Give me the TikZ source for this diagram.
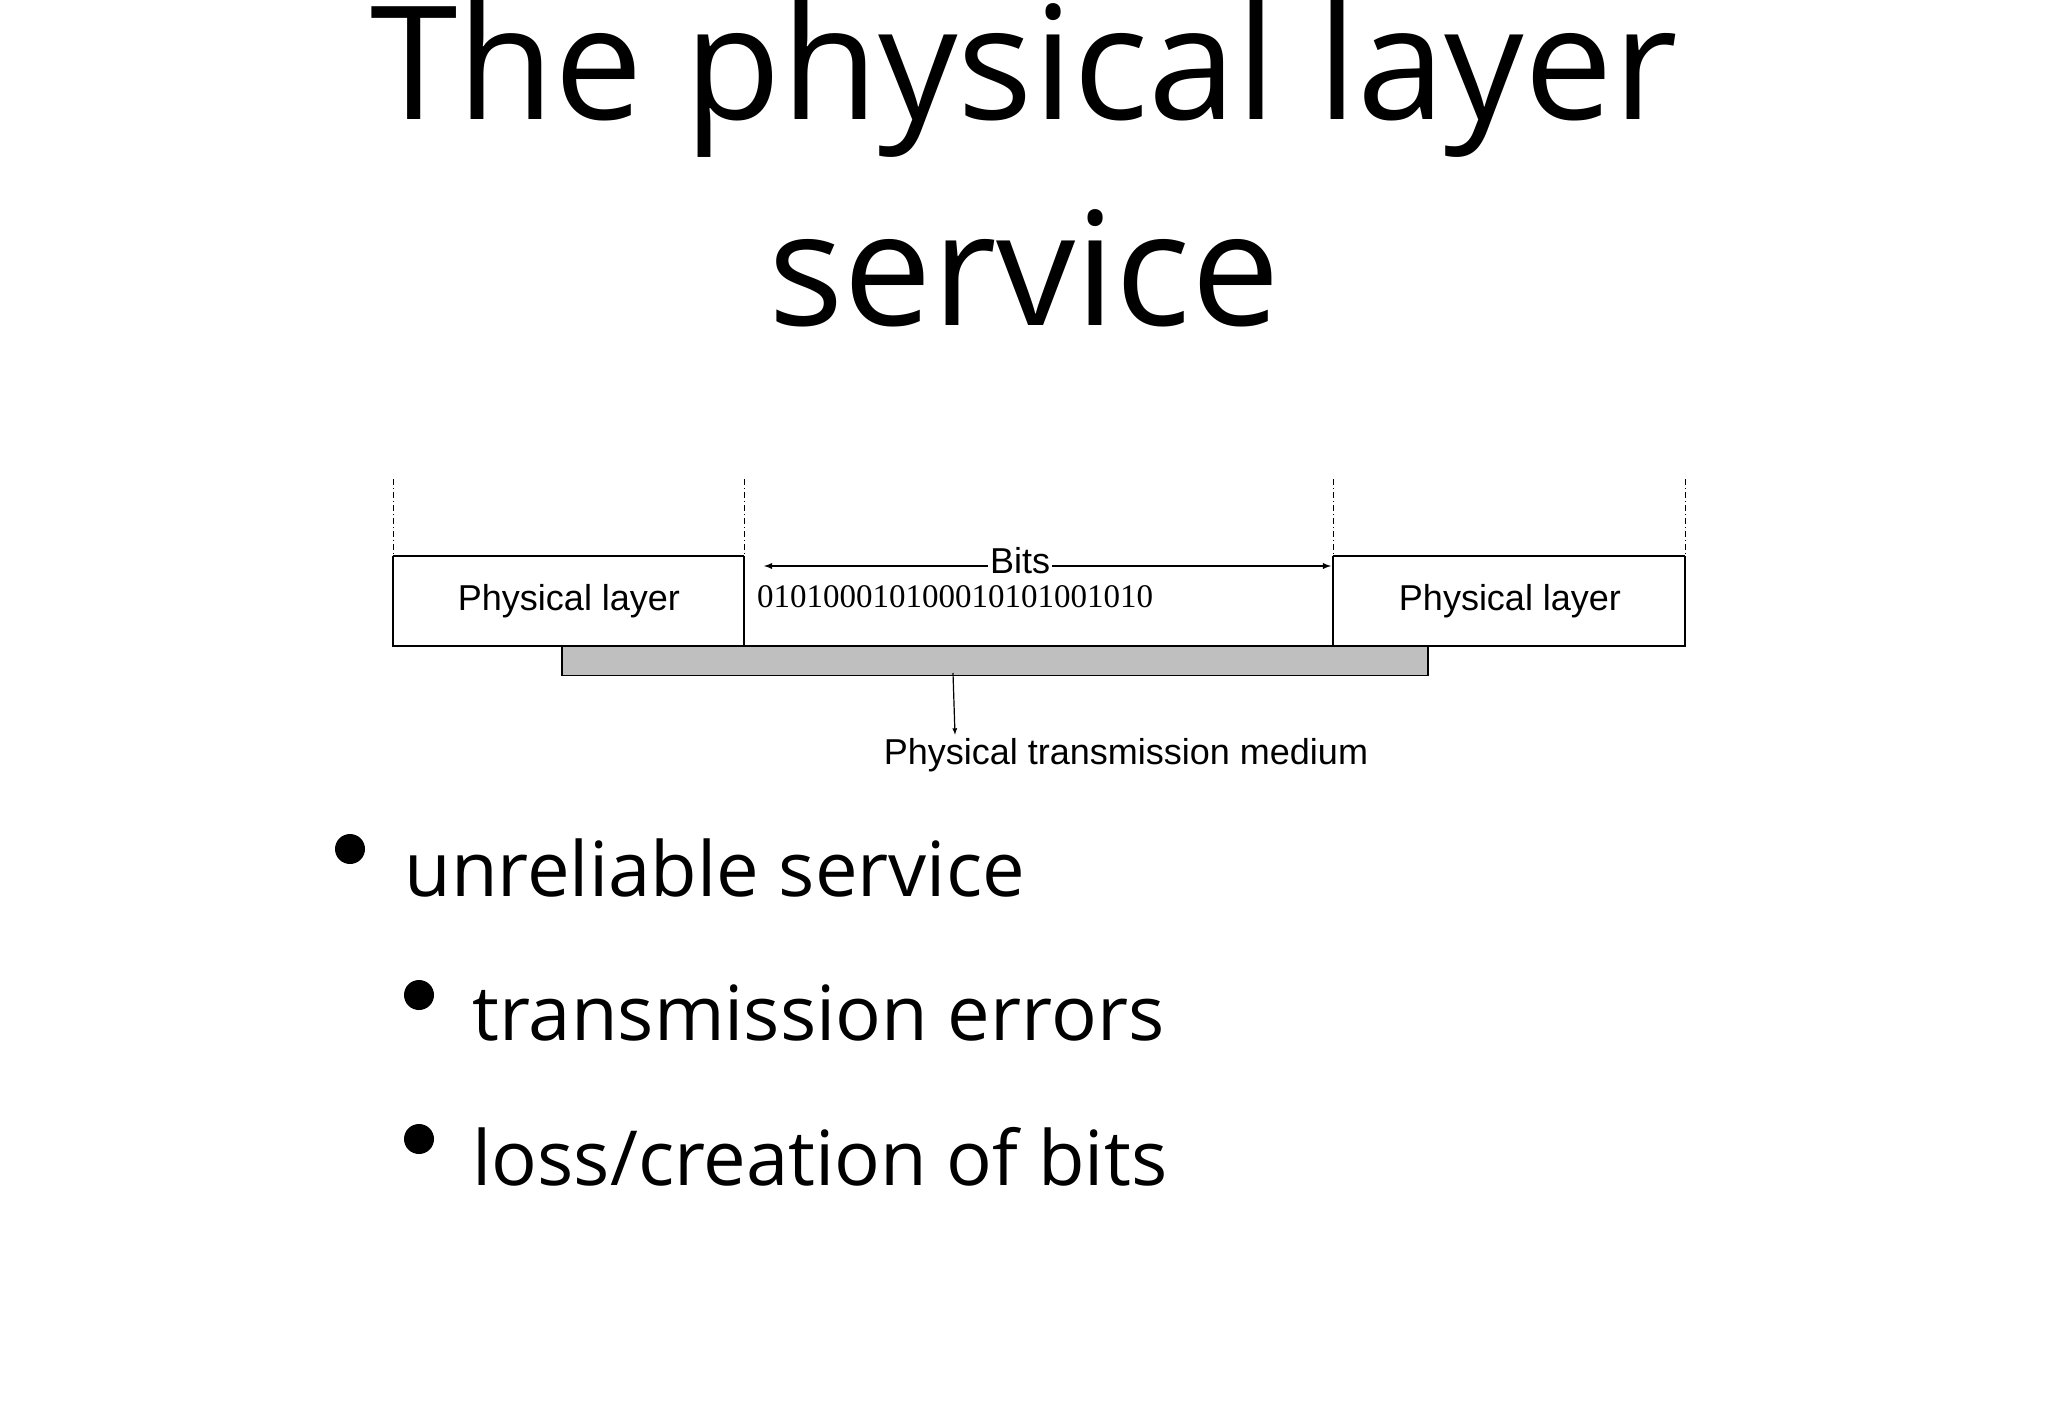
\documentclass[tikz,border=0pt]{standalone}
\usepackage{fontspec}
\setmainfont{Open Sans}
\newfontfamily\arialf{Liberation Sans}
\newfontfamily\timesf{Liberation Serif}
\begin{document}
\begin{tikzpicture}[x=1pt,y=-1pt,
  lbl/.style={font=\arialf\fontsize{36}{40}\selectfont},
  bul/.style={circle,fill=black,inner sep=0pt,minimum size=30pt},
  item/.style={anchor=west,font=\fontsize{76}{90}\selectfont}]
\useasboundingbox (0,0) rectangle (2048,1418);
\node (t1) at (1024,78) {\fontsize{158}{180}\selectfont The physical layer};
\node (t2) at (1024,268) {\fontsize{158}{180}\selectfont service};
% boxes
\draw[line width=1.8pt] (393,556) -- (744,556) (1333,556) -- (1685,556);
\draw[line width=1.8pt] (393,556) -- (393,646) -- (1685,646) -- (1685,556);
\draw[line width=1.2pt] (744,556) -- (744,646) (1333,556) -- (1333,646);
\foreach \x in {393,744,1333,1685}
  \draw[line width=1pt,dash pattern=on 6pt off 3pt on 1pt off 3pt] (\x,479) -- (\x,556);
\node[draw,line width=1.5pt,fill=black!25,minimum width=866pt,minimum height=29pt,inner sep=0pt] (med) at (995,661) {};
\node[lbl] (pl1) at (569,601) {Physical layer};
\node[lbl] (pl2) at (1510,601) {Physical layer};
\node[lbl,fill=white,inner sep=2pt] (bits) at (1020,561) {Bits};
\coordinate (al) at (764,566);
\coordinate (ar) at (1331,566);
\draw[-latex,line width=1.8pt] (bits.west|-al) -- (al);
\draw[-latex,line width=1.8pt] (bits.east|-ar) -- (ar);
\node[anchor=west,font=\timesf\fontsize{33}{36}\selectfont,inner sep=0pt] (bin) at (757,597) {010100010100010101001010};
\node[lbl] (ptm) at (1126,755) {Physical transmission medium};
\coordinate (ms) at (953,673);
\draw[-latex,line width=1.2pt] (ms) -- (ptm.north -| 955,0);
% bullets
\node[bul] (b1) at (350,849) {};
\node[item] (i1) at (401,868) {unreliable service};
\node[bul] (b2) at (419,995) {};
\node[item] (i2) at (469,1013) {transmission errors};
\node[bul] (b3) at (419,1139) {};
\node[item] (i3) at (469,1157) {loss/creation of bits};
\end{tikzpicture}
\end{document}
